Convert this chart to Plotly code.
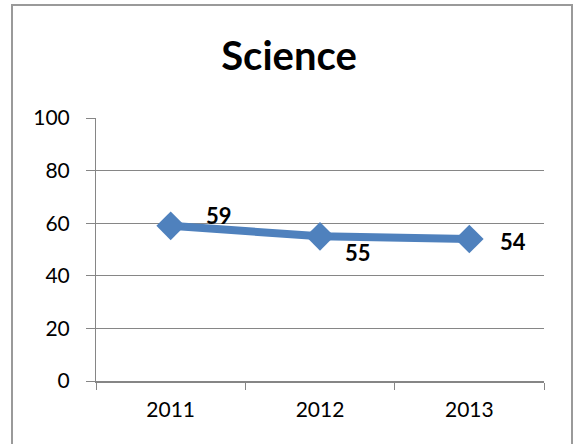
import plotly.graph_objects as go

years = ["2011", "2012", "2013"]
scores = [59, 55, 54]
label_dx = [48, 38, 44]
label_dy = [10, -16, -3]
y_ticks = [0, 20, 40, 60, 80, 100]

W, H = 573, 444
L, R, T, B = 96, 29, 118, 63
pw, ph = W - L - R, H - T - B
FONT = "Lato, Open Sans, sans-serif"

fig = go.Figure()
fig.add_trace(go.Scatter(
    x=years, y=scores, mode="lines+markers",
    line=dict(color="#4F81BD", width=8),
    marker=dict(symbol="diamond", size=22, color="#4F81BD"),
    showlegend=False, hoverinfo="skip",
))
for i, (y, dx, dy) in enumerate(zip(scores, label_dx, label_dy)):
    fig.add_annotation(x=i, y=y, text=f"<b>{y}</b>", showarrow=False,
                       xshift=dx, yshift=dy,
                       font=dict(family=FONT, size=22, color="black"))

fig.add_shape(type="rect", xref="paper", yref="paper",
              x0=(12 - L) / pw, x1=(572 - L) / pw,
              y0=(H - B - 470) / ph, y1=(H - B - 5) / ph,
              line=dict(color="#9a9a9a", width=2), layer="below")

fig.update_layout(
    width=W, height=H,
    margin=dict(l=L, r=R, t=T, b=B, autoexpand=False),
    paper_bgcolor="white", plot_bgcolor="white",
    title=dict(text="<b>Science</b>", x=289 / W, xanchor="center",
               y=1 - 56 / H, yanchor="middle",
               font=dict(family=FONT, size=40, color="black")),
    font=dict(family=FONT, size=21, color="black"),
    xaxis=dict(type="category", tickson="boundaries", ticks="outside", ticklen=7,
               tickcolor="#868686", showline=True, linecolor="#868686", linewidth=2,
               showgrid=False, range=[-0.5, 2.5], ticklabelstandoff=9),
    yaxis=dict(range=[0, 100], tickvals=y_ticks, ticks="outside", ticklen=9,
               tickcolor="#868686", showline=True, linecolor="#868686", linewidth=1,
               showgrid=True, gridcolor="#868686", gridwidth=1, zeroline=False,
               ticklabelstandoff=12),
)
fig.write_html("out.html", config={"displayModeBar": False},
               post_script="document.body.style.margin='0';document.body.style.overflow='hidden';")
